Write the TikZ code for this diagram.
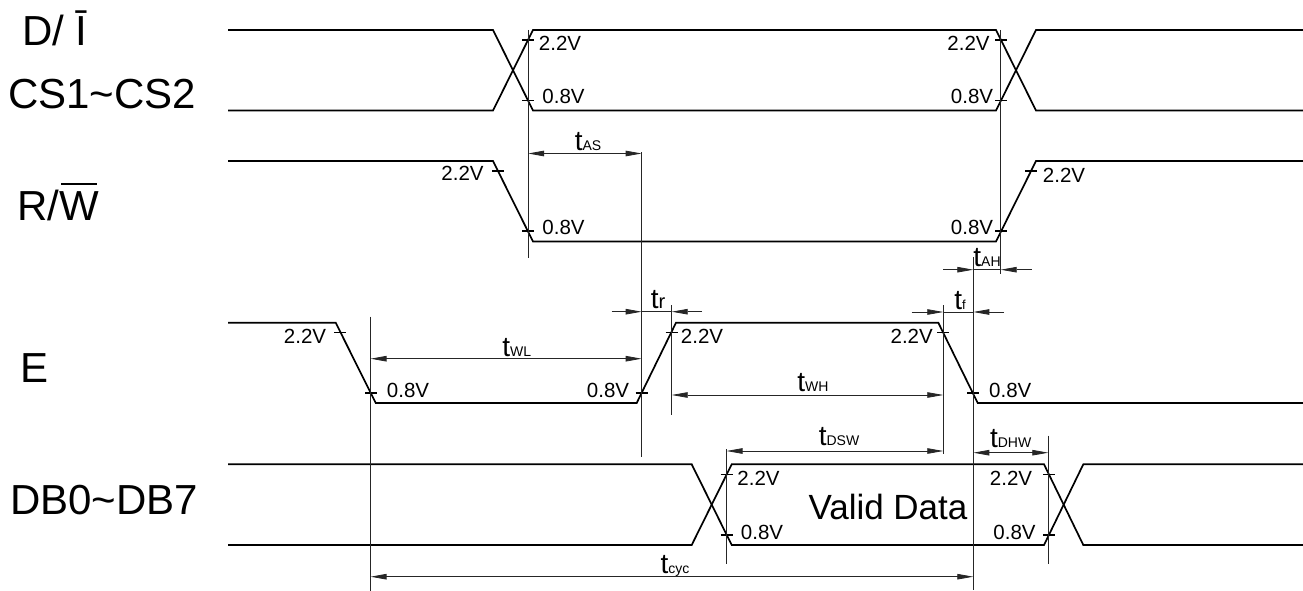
\documentclass[tikz,border=0pt]{standalone}
\usepackage{fontspec}
\setmainfont{Liberation Sans}
\usetikzlibrary{arrows.meta}

\newcommand{\tname}[2][14]{{\fontsize{28}{28}\selectfont t}{\fontsize{#1}{#1}\selectfont #2}}

\tikzset{
	sig/.style={line width=1.7pt, line join=miter},
	tickmark/.style={line width=1.2pt},
	guide/.style={line width=0.8pt, black!85},
	dim/.style={line width=0.8pt, black!85, {Triangle[length=16pt,width=5.5pt]}-{Triangle[length=16pt,width=5.5pt]}},
	dimin/.style={line width=0.8pt, black!85, -{Triangle[length=16pt,width=5.5pt]}},
	volt/.style={font=\fontsize{20.5}{20.5}\selectfont, inner sep=0pt},
	signame/.style={font=\fontsize{42}{42}\selectfont, inner sep=0pt, anchor=base west},
	tlabel/.style={inner sep=0pt, anchor=base}
}

\begin{document}
\begin{tikzpicture}[x=1pt, y=-1pt]
	\useasboundingbox (0,0) rectangle (1303,591);

	% signal names
	\node[signame] (di) at (22,46) {D/ \={I}};
	\node[signame] (cs) at (8,109) {CS1\textasciitilde CS2};
	\node[signame] (rw) at (17,220) {R/\kern2pt\rlap{\rule[35.5pt]{36pt}{1.8pt}}\kern-2pt W};
	\node[signame] (e) at (20,382.7) {E};
	\node[signame] (db) at (10,514) {DB0\textasciitilde DB7};

	% D/I and CS
	\draw[sig] (228,30) -- (493,30) -- (533,110.5) -- (996,110.5) -- (1036,30) -- (1303,30);
	\draw[sig] (228,110.5) -- (493,110.5) -- (533,30) -- (996,30) -- (1036,110.5) -- (1303,110.5);

	% R/W
	\draw[sig] (228,161) -- (493,161) -- (533,241.5) -- (996,241.5) -- (1036,161) -- (1303,161);

	% E
	\draw[sig] (228,322.7) -- (335.7,322.7) -- (375.7,403) -- (636.7,403) -- (676,322.7) -- (938.3,322.7) -- (977.7,403) -- (1303,403);

	% DB
	\draw[sig] (228,464.3) -- (691.7,464.3) -- (731.7,545) -- (1044,545) -- (1083.3,464.3) -- (1303,464.3);
	\draw[sig] (228,545) -- (691.7,545) -- (731.7,464.3) -- (1044,464.3) -- (1083.3,545) -- (1303,545);

	% level marks
	\foreach \x/\y in {528/40,528/100.5,1001/40,1001/100.5,498/171,528/231,1031/171,1001/231,
		340/332.5,371/393,641.7/393,671.7/332.5,943/332.5,973/393,
		726.5/474.3,726.5/535,1049/474.3,1049/535}
		\draw[tickmark] (\x-6,\y) -- (\x+6,\y);

	% guide lines
	\coordinate (a1) at (528,30);
	\coordinate (a2) at (528,258);
	\coordinate (b1) at (641.7,152);
	\coordinate (b2) at (641.7,457);
	\coordinate (c1) at (1000.7,30);
	\coordinate (c2) at (1000.7,274);
	\coordinate (d1) at (973.3,257);
	\coordinate (d2) at (973.3,590);
	\coordinate (f1) at (943.3,305);
	\coordinate (f2) at (943.3,454);
	\coordinate (g1) at (671.7,305);
	\coordinate (g2) at (671.7,415);
	\coordinate (h1) at (370.5,316.7);
	\coordinate (h2) at (370.5,590.7);
	\coordinate (j1) at (726.5,449);
	\coordinate (j2) at (726.5,564);
	\coordinate (k1) at (1048.3,435.7);
	\coordinate (k2) at (1048.3,564);
	\foreach \p in {a,b,c,d,f,g,h,j,k}
		\draw[guide] (\p1) -- (\p2);

	% voltages
	\node[volt] (va1) at (560,43) {2.2V};
	\node[volt] (va2) at (563.5,96) {0.8V};
	\node[volt] (va3) at (968.5,43) {2.2V};
	\node[volt] (va4) at (972,96) {0.8V};
	\node[volt] (vb1) at (462.5,173) {2.2V};
	\node[volt] (vb2) at (563.5,227) {0.8V};
	\node[volt] (vb3) at (1064,175) {2.2V};
	\node[volt] (vb4) at (972,227) {0.8V};
	\node[volt] (vc1) at (305,336.7) {2.2V};
	\node[volt] (vc2) at (408,390.7) {0.8V};
	\node[volt] (vc3) at (608,390.7) {0.8V};
	\node[volt] (vc4) at (702,336.7) {2.2V};
	\node[volt] (vc5) at (911.7,336.7) {2.2V};
	\node[volt] (vc6) at (1010.3,390.7) {0.8V};
	\node[volt] (vd1) at (758.5,478) {2.2V};
	\node[volt] (vd2) at (762,532.7) {0.8V};
	\node[volt] (vd3) at (1011,478) {2.2V};
	\node[volt] (vd4) at (1014.5,532.7) {0.8V};

	\node[font=\fontsize{35}{35}\selectfont, inner sep=0pt] (valid) at (888,506.5) {Valid Data};

	% timings
	\draw[dim] (a1 |- 0,153.5) -- (b1 |- 0,153.5);
	\node[tlabel] (tas) at (588,150) {\tname{AS}};
	\draw[dim] (h1 |- 0,358.7) -- (b1 |- 0,358.7);
	\node[tlabel] (twl) at (516.7,356) {\tname{WL}};
	\draw[dim] (g1 |- 0,395) -- (f1 |- 0,395);
	\node[tlabel] (twh) at (813,391) {\tname{WH}};
	\draw[dim] (j1 |- 0,451) -- (f1 |- 0,451);
	\node[tlabel] (tdsw) at (839,445.5) {\tname{DSW}};
	\draw[dim] (d1 |- 0,452.7) -- (k1 |- 0,452.7);
	\node[tlabel] (tdhw) at (1010.7,447) {\tname{DHW}};
	\draw[dim] (h1 |- 0,576.7) -- (d1 |- 0,576.7);
	\node[tlabel] (tcyc) at (675,573) {\tname{cyc}};

	\draw[dimin] (911.7,312) -- (f1 |- 0,312);
	\draw[dimin] (1004,312) -- (d1 |- 0,312);
	\draw[guide] (f1 |- 0,312) -- (d1 |- 0,312);
	\node[tlabel] (tf) at (960,309) {\tname[13]{f}};

	\draw[dimin] (611.7,311.7) -- (b1 |- 0,311.7);
	\draw[dimin] (702,311.7) -- (g1 |- 0,311.7);
	\draw[guide] (b1 |- 0,311.7) -- (g1 |- 0,311.7);
	\node[tlabel] (tr) at (658,308.5) {\tname[20]{r}};

	\draw[dimin] (943,269.7) -- (d1 |- 0,269.7);
	\draw[dimin] (1031.7,269.7) -- (c1 |- 0,269.7);
	\draw[guide] (d1 |- 0,269.7) -- (c1 |- 0,269.7);
	\node[tlabel] (tah) at (987,266) {\tname{AH}};
\end{tikzpicture}
\end{document}
